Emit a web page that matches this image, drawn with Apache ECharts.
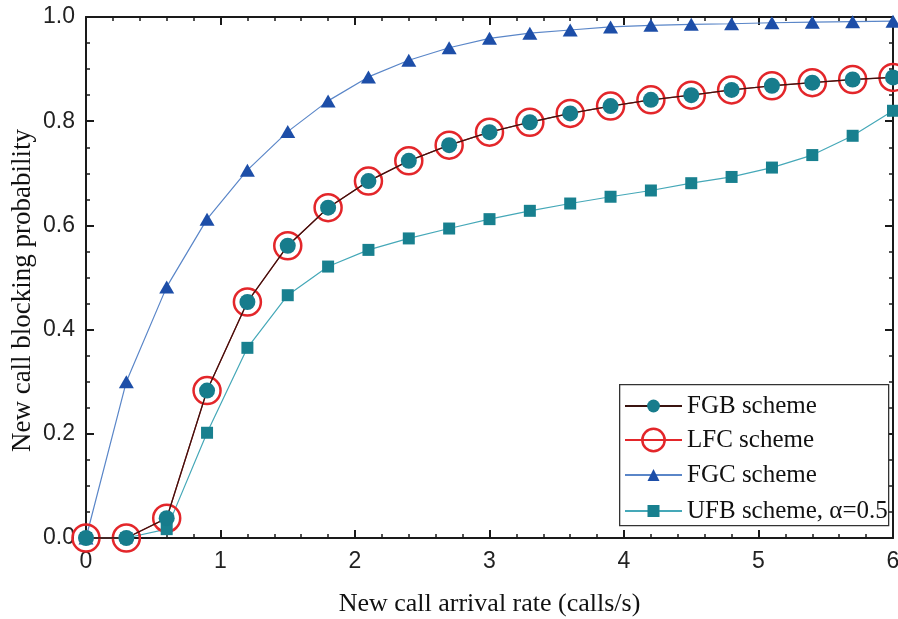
<!DOCTYPE html>
<html>
<head>
<meta charset="utf-8">
<script src="https://cdn.jsdelivr.net/npm/echarts@6/dist/echarts.min.js"></script>
<style>
html,body{margin:0;padding:0;background:#fff;}
#c{width:898px;height:619px;}
</style>
</head>
<body>
<div id="c"></div>
<script>
// x values (calls/s)
var xVals = [0, 0.3, 0.6, 0.9, 1.2, 1.5, 1.8, 2.1, 2.4, 2.7, 3.0, 3.3, 3.6, 3.9, 4.2, 4.5, 4.8, 5.1, 5.4, 5.7, 6.0];
var fgb = [0.000, 0.000, 0.038, 0.283, 0.453, 0.561, 0.634, 0.685, 0.724, 0.754, 0.779, 0.798, 0.815, 0.829, 0.841, 0.850, 0.860, 0.868, 0.874, 0.880, 0.884];
var lfc = [0.000, 0.000, 0.038, 0.283, 0.453, 0.561, 0.634, 0.685, 0.724, 0.754, 0.779, 0.798, 0.815, 0.829, 0.841, 0.850, 0.860, 0.868, 0.874, 0.880, 0.884];
var fgc = [0.000, 0.300, 0.482, 0.612, 0.706, 0.780, 0.839, 0.885, 0.917, 0.941, 0.959, 0.969, 0.975, 0.981, 0.984, 0.986, 0.987, 0.989, 0.990, 0.991, 0.992];
var ufb = [0.000, 0.000, 0.017, 0.202, 0.365, 0.466, 0.521, 0.553, 0.575, 0.594, 0.612, 0.628, 0.642, 0.655, 0.667, 0.681, 0.693, 0.711, 0.735, 0.772, 0.820];
var seriesNames = ['FGB scheme', 'LFC scheme', 'FGC scheme', 'UFB scheme, \u03b1=0.5'];
var xTitle = 'New call arrival rate (calls/s)';
var yTitle = 'New call blocking probability';

function pairs(ys) { return xVals.map(function (x, i) { return [x, ys[i]]; }); }

var serif = "'Times New Roman', 'Liberation Serif', serif";
var sans = "Arial, 'Liberation Sans', sans-serif";
var axisCol = '#1a1a1a';

function baseAxis(extra) {
  var a = {
    type: 'value',
    axisLine: { show: true, onZero: false, lineStyle: { color: axisCol, width: 2 } },
    axisTick: { show: true, inside: true, length: 8, lineStyle: { color: axisCol, width: 2 } },
    minorTick: { show: true, length: 4, lineStyle: { color: axisCol, width: 1.5 } },
    splitLine: { show: false },
    minorSplitLine: { show: false }
  };
  for (var k in extra) a[k] = extra[k];
  return a;
}

function legendFor(name, top, ih, style) {
  return {
    data: [name], orient: 'vertical', left: 624, top: top, padding: 0,
    itemWidth: 57, itemHeight: ih, selectedMode: false,
    textStyle: { fontFamily: serif, fontSize: 25, color: '#111', lineHeight: 30 },
    itemStyle: style
  };
}

var chart = echarts.init(document.getElementById('c'), null, { renderer: 'canvas' });
chart.setOption({
  animation: false,
  backgroundColor: '#fff',
  grid: { left: 86, right: 5, top: 17, bottom: 81, containLabel: false, outerBoundsMode: 'none' },
  xAxis: [
    baseAxis({ position: 'bottom', min: 0, max: 6, interval: 1,
      minorTick: { show: true, splitNumber: 5, length: 4, lineStyle: { color: axisCol, width: 1.5 } },
      axisLabel: { show: true, margin: 12, fontFamily: sans, fontSize: 23, color: '#222' },
      name: xTitle, nameLocation: 'middle', nameGap: 53,
      nameTextStyle: { fontFamily: serif, fontSize: 26, color: '#111' } }),
    baseAxis({ position: 'top', min: 0, max: 6, interval: 1,
      minorTick: { show: true, splitNumber: 5, length: 4, lineStyle: { color: axisCol, width: 1.5 } },
      axisLabel: { show: false } })
  ],
  yAxis: [
    baseAxis({ position: 'left', min: 0, max: 1, interval: 0.2,
      minorTick: { show: true, splitNumber: 4, length: 4, lineStyle: { color: axisCol, width: 1.5 } },
      axisLabel: { show: true, margin: 11, fontFamily: sans, fontSize: 23, color: '#222',
        formatter: function (v) { return v.toFixed(1); } },
      name: yTitle, nameLocation: 'middle', nameGap: 50, nameMoveOverlap: false,
      nameTextStyle: { fontFamily: serif, fontSize: 27, color: '#111', padding: [0, 26, 0, 0] } }),
    baseAxis({ position: 'right', min: 0, max: 1, interval: 0.2,
      minorTick: { show: true, splitNumber: 4, length: 4, lineStyle: { color: axisCol, width: 1.5 } },
      axisLabel: { show: false } })
  ],
  legend: [
    legendFor(seriesNames[0], 391, 16, { color: '#177c8c', borderWidth: 0 }),
    legendFor(seriesNames[1], 425, 28, { color: 'rgba(0,0,0,0)', borderColor: '#e3262a', borderWidth: 2.5 }),
    legendFor(seriesNames[2], 460, 15, { color: '#1d4ea8', borderWidth: 0 }),
    legendFor(seriesNames[3], 496, 15, { color: '#18808f', borderWidth: 0 })
  ],
  graphic: [{
    type: 'rect', left: 619, top: 384, z: 1,
    shape: { width: 269, height: 141 },
    style: { fill: '#fff', stroke: '#333', lineWidth: 1.3 }
  }],
  series: [
    {
      name: seriesNames[1], type: 'line', data: pairs(lfc), z: 3,
      symbol: 'circle', symbolSize: 27, clip: true,
      itemStyle: { color: 'rgba(0,0,0,0)', borderColor: '#e3262a', borderWidth: 2.5 },
      lineStyle: { color: '#e3262a', width: 1.2 }
    },
    {
      name: seriesNames[0], type: 'line', data: pairs(fgb), z: 4,
      symbol: 'circle', symbolSize: 16, clip: true,
      itemStyle: { color: '#177c8c' },
      lineStyle: { color: '#3a1410', width: 1.3 }
    },
    {
      name: seriesNames[2], type: 'line', data: pairs(fgc), z: 3,
      symbol: 'triangle', symbolSize: [15, 13], clip: true,
      itemStyle: { color: '#1d4ea8' },
      lineStyle: { color: '#5a86c8', width: 1.2 }
    },
    {
      name: seriesNames[3], type: 'line', data: pairs(ufb), z: 3,
      symbol: 'rect', symbolSize: 12, clip: true,
      itemStyle: { color: '#18808f' },
      lineStyle: { color: '#45a8b8', width: 1.2 }
    }
  ]
});
</script>
</body>
</html>
